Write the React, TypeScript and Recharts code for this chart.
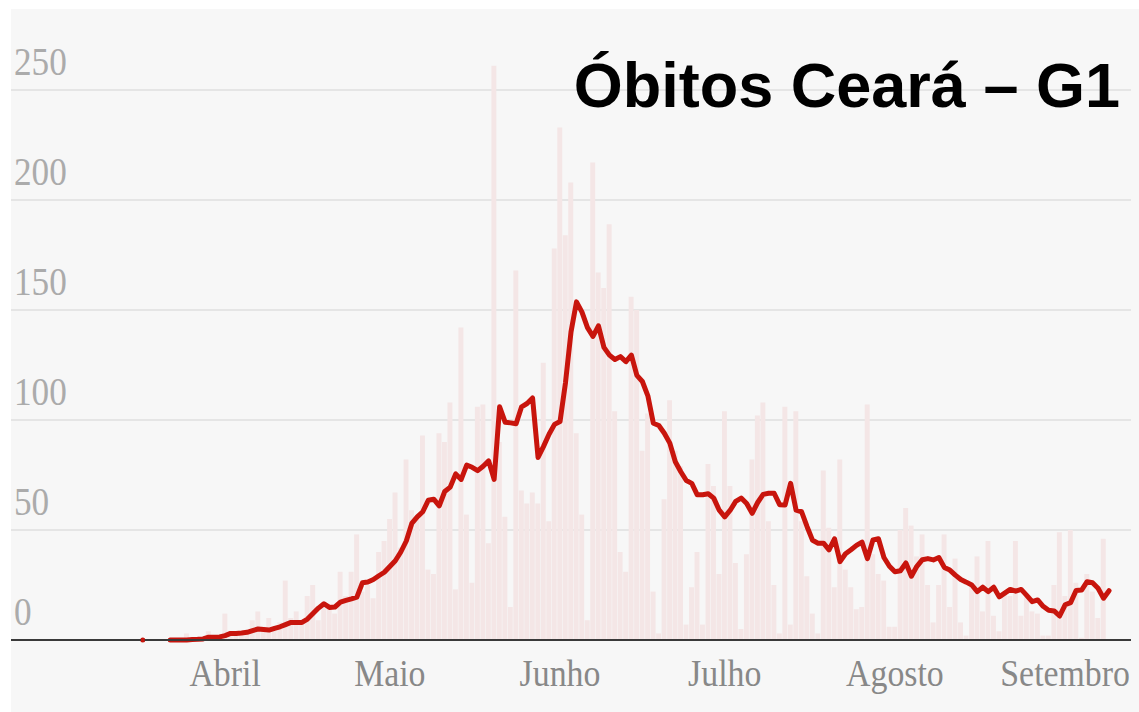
import React from 'react';
import { ComposedChart, Bar, Line, XAxis, YAxis, CartesianGrid } from 'recharts';

// dia 0 = 1º de março de 2020
const FIRST_DAY = 16;

const monthTicks = [31, 61, 92, 122, 153, 184];
const monthLabels = ['Abril', 'Maio', 'Junho', 'Julho', 'Agosto', 'Setembro'];
const yTicks = [0, 50, 100, 150, 200, 250];

// óbitos por dia (barras)
const dailyDeaths = [
  0, 0, 0, 0, 0,
  0, 0, 1, 3, 0, 1, 0, 4, 2, 1,
  12, 4, 3, 4, 4, 9, 13, 6, 10, 6,
  8, 27, 10, 13, 8, 20, 25, 9, 17, 15,
  12, 31, 20, 31, 48, 22, 25, 19, 40, 45,
  55, 67, 42, 82, 59, 55, 93, 32, 30, 94,
  90, 108, 23, 142, 57, 26, 106, 107, 44, 261,
  90, 56, 15, 168, 68, 62, 67, 62, 126, 54,
  178, 233, 184, 208, 94, 57, 9, 217, 167, 160,
  189, 104, 40, 31, 156, 150, 86, 103, 22, 3,
  64, 109, 86, 79, 7, 24, 40, 7, 80, 70,
  30, 104, 70, 35, 5, 39, 82, 102, 108, 54,
  25, 3, 106, 7, 104, 54, 29, 12, 3, 77,
  51, 24, 82, 32, 24, 14, 15, 107, 39, 30,
  27, 6, 6, 50, 60, 52, 38, 48, 25, 8,
  25, 48, 15, 37, 8, 2, 24, 38, 13, 45,
  11, 4, 22, 20, 45, 11, 21, 13, 12, 2,
  2, 25, 49, 20, 50, 26, 1, 30, 22, 10,
  46, 0,
];

// média móvel (linha vermelha)
const movingAverage = [
  0, null, null, null, null,
  0, 0, 0, 0, 0.2, 0.3, 0.5, 1.3, 1.3, 1.4,
  2, 3, 3, 3.2, 3.5, 4.3, 5, 4.8, 4.5, 5.3,
  6, 7, 8, 8, 8, 9.5, 12, 14.5, 16.5, 14.8,
  15, 17.2, 18, 18.7, 19.5, 26, 26.4, 27.5, 29.2, 30.8,
  33.4, 36, 40, 45, 53, 56, 58.3, 63.5, 64, 61,
  67.5, 69.5, 75.5, 73, 79.5, 78.5, 77, 79, 81.4, 73,
  106, 99, 98.7, 98.3, 106, 107.5, 110, 83, 88, 93.5,
  98, 99.3, 117, 140, 153.7, 149, 142, 138, 142.8, 133,
  129.5, 127.5, 128.8, 126.5, 129.5, 120.3, 117.5, 111, 98.5, 97.5,
  94, 89.5, 81, 76.5, 72.5, 71.2, 66, 66, 66.5, 64.5,
  59, 56, 59, 63, 64.5, 62, 57.6, 62.5, 66.2, 66.7,
  66.7, 61.5, 61.4, 71.2, 59, 58.3, 51.5, 45.3, 44, 44,
  41, 46, 35.6, 39.2, 41, 43, 44.5, 37, 45.5, 46,
  37.5, 33.5, 31, 31.5, 35, 29, 33.5, 36.5, 37, 36.4,
  37.5, 33, 31.8, 29.5, 27.5, 26.3, 25, 22, 24, 22,
  24, 19.6, 21.3, 23, 22.2, 23, 20.3, 17.4, 18.2, 15.3,
  13.5, 13.2, 10.9, 16, 17, 22.5, 22.7, 26.5, 26, 23.5,
  19, 22.4,
];

const data = dailyDeaths.map((deaths, i) => ({
  day: FIRST_DAY + i,
  deaths,
  average: movingAverage[i],
}));

const RED = '#c8150d';

const YTick = (props: any) => {
  const { y, payload } = props;
  return (
    <text
      transform={`translate(14, ${y - 15}) scale(0.88, 1)`}
      fontFamily="'Liberation Serif', serif"
      fontSize={40}
      fill="#ababab"
    >
      {payload.value}
    </text>
  );
};

const XTick = (props: any) => {
  const { x, payload } = props;
  const label = monthLabels[monthTicks.indexOf(payload.value)];
  return (
    <text
      transform={`translate(${x}, 686) scale(0.89, 1)`}
      textAnchor="middle"
      fontFamily="'Liberation Serif', serif"
      fontSize={38}
      fill="#888888"
    >
      {label}
    </text>
  );
};

const renderDot = (props: any) => {
  const { cx, cy, index } = props;
  if (index !== 0) return <g key={`d-${index}`} />;
  return <circle key={`d-${index}`} cx={cx} cy={cy} r={2} fill={RED} />;
};

export default function App() {
  return (
    <div style={{ position: 'absolute', left: 0, top: 0, width: 1139, height: 712, background: '#ffffff' }}>
      <div style={{ position: 'absolute', left: 11, top: 9, width: 1128, height: 703, background: '#f7f7f7' }} />
      <div style={{ position: 'absolute', left: 0, top: 0 }}>
        <ComposedChart
          width={1139}
          height={712}
          data={data}
          margin={{ top: 2, right: 8, bottom: 42, left: 11 }}
        >
          <CartesianGrid
            horizontal
            vertical={false}
            horizontalValues={yTicks}
            stroke="#e5e5e5"
            strokeWidth={2}
          />
          <XAxis
            dataKey="day"
            type="number"
            domain={[-8, 196]}
            ticks={monthTicks}
            tick={<XTick />}
            tickLine={false}
            axisLine={{ stroke: '#3a3a3a', strokeWidth: 2 }}
            height={30}
            interval={0}
          />
          <YAxis
            type="number"
            domain={[0, 290]}
            ticks={yTicks}
            tick={<YTick />}
            tickLine={false}
            axisLine={false}
            mirror
            interval={0}
          />
          <Bar dataKey="deaths" fill="#f4e6e6" barSize={6} isAnimationActive={false} />
          <Line
            dataKey="average"
            type="linear"
            stroke={RED}
            strokeWidth={5}
            strokeLinejoin="round"
            strokeLinecap="round"
            dot={renderDot}
            activeDot={false}
            connectNulls={false}
            isAnimationActive={false}
          />
        </ComposedChart>
      </div>
      <div
        style={{
          position: 'absolute',
          right: 19,
          top: 54,
          fontFamily: "'Liberation Sans', Arial, sans-serif",
          fontWeight: 700,
          fontSize: 63,
          lineHeight: '63px',
          color: '#000',
          whiteSpace: 'nowrap',
        }}
      >
        Óbitos Ceará – G1
      </div>
    </div>
  );
}
